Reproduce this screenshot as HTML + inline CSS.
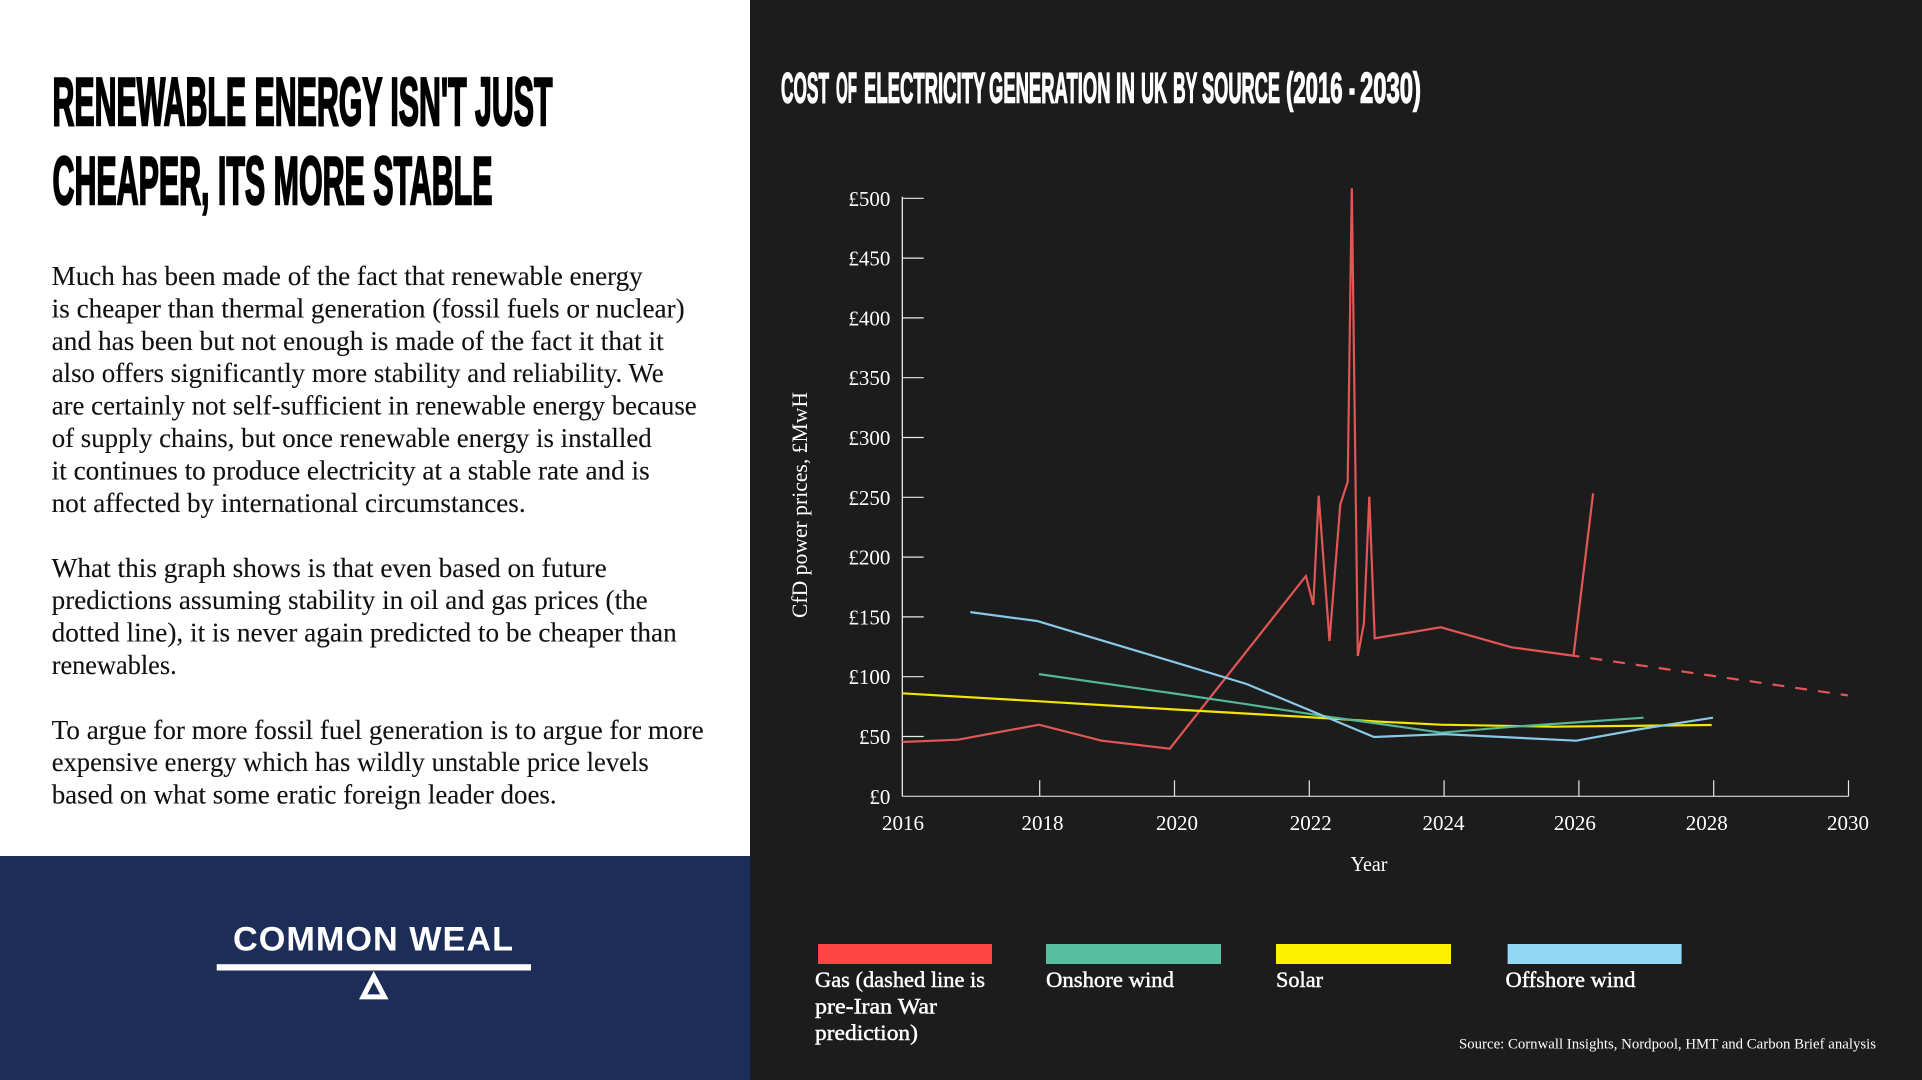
<!DOCTYPE html>
<html lang="en">
<head>
<meta charset="utf-8">
<title>Renewable energy isn't just cheaper, its more stable</title>
<style>
html,body{margin:0;padding:0;background:#1c1c1c;}
body{width:1922px;height:1080px;overflow:hidden;}
svg{display:block;}
.head{font-family:"Liberation Sans Narrow","Liberation Sans",sans-serif;font-weight:700;}
.body-line{font-family:"Liberation Serif",serif;font-size:27px;fill:#111;stroke:#111;stroke-width:.12px;}
.chart-text{font-family:"Liberation Serif",serif;font-size:21px;fill:#fff;}
.legend-text{font-family:"Liberation Serif",serif;font-size:22px;fill:#fff;stroke:#fff;stroke-width:.45px;}
</style>
</head>
<body>
<svg id="page" xmlns="http://www.w3.org/2000/svg" width="1922" height="1080" viewBox="0 0 1922 1080">
  <rect x="0" y="0" width="750" height="856" fill="#ffffff"/>
  <rect x="0" y="856" width="750" height="224" fill="#1c2d58"/>
  <rect x="750" y="0" width="1172" height="1080" fill="#1c1c1c"/>

  <g class="head" font-size="67.5" fill="#000" stroke="#000" stroke-width="2.4">
    <text x="52.5" y="125" textLength="500" lengthAdjust="spacingAndGlyphs">RENEWABLE ENERGY ISN'T JUST</text>
    <text x="52.5" y="204" textLength="440" lengthAdjust="spacingAndGlyphs">CHEAPER, ITS MORE STABLE</text>
  </g>

  <g class="body-line">
    <text x="51.7" y="285" textLength="591" lengthAdjust="spacingAndGlyphs">Much has been made of the fact that renewable energy</text>
    <text x="51.7" y="317.4" textLength="633" lengthAdjust="spacingAndGlyphs">is cheaper than thermal generation (fossil fuels or nuclear)</text>
    <text x="51.7" y="349.8" textLength="612" lengthAdjust="spacingAndGlyphs">and has been but not enough is made of the fact it that it</text>
    <text x="51.7" y="382.2" textLength="612" lengthAdjust="spacingAndGlyphs">also offers significantly more stability and reliability. We</text>
    <text x="51.7" y="414.6" textLength="645" lengthAdjust="spacingAndGlyphs">are certainly not self-sufficient in renewable energy because</text>
    <text x="51.7" y="447" textLength="600" lengthAdjust="spacingAndGlyphs">of supply chains, but once renewable energy is installed</text>
    <text x="51.7" y="479.4" textLength="598" lengthAdjust="spacingAndGlyphs">it continues to produce electricity at a stable rate and is</text>
    <text x="51.7" y="511.8" textLength="474" lengthAdjust="spacingAndGlyphs">not affected by international circumstances.</text>
    <text x="51.7" y="576.8" textLength="555" lengthAdjust="spacingAndGlyphs">What this graph shows is that even based on future</text>
    <text x="51.7" y="609.2" textLength="596" lengthAdjust="spacingAndGlyphs">predictions assuming stability in oil and gas prices (the</text>
    <text x="51.7" y="641.6" textLength="625" lengthAdjust="spacingAndGlyphs">dotted line), it is never again predicted to be cheaper than</text>
    <text x="51.7" y="674" textLength="125" lengthAdjust="spacingAndGlyphs">renewables.</text>
    <text x="51.7" y="738.8" textLength="652" lengthAdjust="spacingAndGlyphs">To argue for more fossil fuel generation is to argue for more</text>
    <text x="51.7" y="771.2" textLength="597" lengthAdjust="spacingAndGlyphs">expensive energy which has wildly unstable price levels</text>
    <text x="51.7" y="803.6" textLength="505" lengthAdjust="spacingAndGlyphs">based on what some eratic foreign leader does.</text>
  </g>

  <g>
    <text x="233" y="950.5" font-family="'Liberation Sans',sans-serif" font-weight="700" font-size="34" fill="#fff" letter-spacing="1" textLength="281" lengthAdjust="spacingAndGlyphs">COMMON WEAL</text>
    <rect x="216.7" y="964.2" width="314.3" height="6.3" fill="#fff"/>
    <path fill="#fff" fill-rule="evenodd" d="M373.7 971 L388.5 999.4 L359 999.4 Z M373.7 982 L367.3 994.4 L380.2 994.4 Z"/>
  </g>

  <text class="head" y="102.6" font-size="42.6" fill="#fff" stroke="#fff" stroke-width="1.4" lengthAdjust="spacingAndGlyphs"><tspan x="781" textLength="48" lengthAdjust="spacingAndGlyphs">COST</tspan> <tspan x="836" textLength="21" lengthAdjust="spacingAndGlyphs">OF</tspan> <tspan x="864" textLength="121" lengthAdjust="spacingAndGlyphs">ELECTRICITY</tspan> <tspan x="989" textLength="121.5" lengthAdjust="spacingAndGlyphs">GENERATION</tspan> <tspan x="1116" textLength="19" lengthAdjust="spacingAndGlyphs">IN</tspan> <tspan x="1141" textLength="26" lengthAdjust="spacingAndGlyphs">UK</tspan> <tspan x="1173" textLength="24" lengthAdjust="spacingAndGlyphs">BY</tspan> <tspan x="1202" textLength="78" lengthAdjust="spacingAndGlyphs">SOURCE</tspan> <tspan x="1286" textLength="56.6" lengthAdjust="spacingAndGlyphs">(2016</tspan> <tspan x="1349" textLength="6" lengthAdjust="spacingAndGlyphs">-</tspan> <tspan x="1360" textLength="61" lengthAdjust="spacingAndGlyphs">2030)</tspan></text>

  <g id="chart">
    <text class="chart-text" transform="translate(807 505) rotate(-90)" text-anchor="middle" textLength="226" lengthAdjust="spacingAndGlyphs" style="font-size:22px">CfD power prices, £MwH</text>
    <text class="chart-text" x="1369" y="871" text-anchor="middle" textLength="37" lengthAdjust="spacingAndGlyphs">Year</text>
  </g>

  <g>
    <g>
      <rect x="818" y="944" width="174" height="20" fill="#ff4444"/>
      <text class="legend-text" x="815" y="987" textLength="170" lengthAdjust="spacingAndGlyphs">Gas (dashed line is</text>
      <text class="legend-text" x="815" y="1013.6" textLength="122" lengthAdjust="spacingAndGlyphs">pre-Iran War</text>
      <text class="legend-text" x="815" y="1040" textLength="103" lengthAdjust="spacingAndGlyphs">prediction)</text>
    </g>
    <g>
      <rect x="1046" y="944" width="175" height="20" fill="#57bf9f"/>
      <text class="legend-text" x="1046" y="987" textLength="128" lengthAdjust="spacingAndGlyphs">Onshore wind</text>
    </g>
    <g>
      <rect x="1276" y="944" width="175" height="20" fill="#fff000"/>
      <text class="legend-text" x="1276" y="987" textLength="47" lengthAdjust="spacingAndGlyphs">Solar</text>
    </g>
    <g>
      <rect x="1507.6" y="944" width="174" height="20" fill="#92d8f5"/>
      <text class="legend-text" x="1505.5" y="987" textLength="130" lengthAdjust="spacingAndGlyphs">Offshore wind</text>
    </g>
  </g>

  <text x="1459" y="1048.5" font-family="'Liberation Serif',serif" font-size="15" fill="#fff" textLength="417" lengthAdjust="spacingAndGlyphs">Source: Cornwall Insights, Nordpool, HMT and Carbon Brief analysis</text>
</svg>

<script>
const xTickYears = [2016, 2018, 2020, 2022, 2024, 2026, 2028, 2030];
const yTickValues = [0, 50, 100, 150, 200, 250, 300, 350, 400, 450, 500];

const gasYears = [2015.96, 2016.79, 2017.99, 2018.92, 2019.93, 2021.95, 2022.06, 2022.14, 2022.30, 2022.46, 2022.57, 2022.63, 2022.72, 2022.81, 2022.89, 2022.97, 2023.95, 2025.00, 2025.92, 2026.21];
const gasValues = [45.4, 47.3, 59.9, 46.5, 39.8, 184.2, 160, 251.3, 129.8, 244.1, 263, 508.4, 117.3, 144.6, 250.5, 132.1, 141.3, 124.6, 117.6, 253.3];

const gasForecastYears = [2025.92, 2028, 2029.99];
const gasForecastValues = [117.6, 100.6, 84.4];

const solarYears = [2015.96, 2018, 2019.98, 2021.96, 2023.05, 2023.95, 2025.62, 2027.97];
const solarValues = [86.1, 79.4, 72.7, 66.3, 62.4, 59.9, 58.2, 59.6];

const onshoreYears = [2017.99, 2019.98, 2021.07, 2022.26, 2023.05, 2023.96, 2025.03, 2026.96];
const onshoreValues = [102.2, 86, 77, 66.6, 60.5, 53.2, 58.2, 65.7];

const offshoreYears = [2016.97, 2017.96, 2019.98, 2021.07, 2022.96, 2024, 2025.96, 2026.92, 2027.99];
const offshoreValues = [154, 146.6, 112.5, 93.9, 49.6, 52, 46.5, 56.3, 65.7];

const SVG_NS = 'http://www.w3.org/2000/svg';
const chart = document.getElementById('chart');

function x(year) { return 904.9 + (year - 2016) * 67.4; }
function y(value) { return 796.3 - value * 1.196; }

function segment(x1, y1, x2, y2, stroke) {
  const el = document.createElementNS(SVG_NS, 'line');
  el.setAttribute('x1', x1);
  el.setAttribute('y1', y1);
  el.setAttribute('x2', x2);
  el.setAttribute('y2', y2);
  el.setAttribute('stroke', stroke);
  el.setAttribute('stroke-width', '1.2');
  chart.appendChild(el);
  return el;
}

function label(text, px, py, anchor) {
  const el = document.createElementNS(SVG_NS, 'text');
  el.setAttribute('class', 'chart-text');
  el.setAttribute('x', px);
  el.setAttribute('y', py);
  el.setAttribute('text-anchor', anchor);
  el.textContent = text;
  chart.appendChild(el);
  return el;
}

function series(years, values, color) {
  const el = document.createElementNS(SVG_NS, 'polyline');
  el.setAttribute('points', years.map(function (yr, i) { return x(yr).toFixed(1) + ',' + y(values[i]).toFixed(1); }).join(' '));
  el.setAttribute('fill', 'none');
  el.setAttribute('stroke', color);
  el.setAttribute('stroke-width', '2.2');
  el.setAttribute('stroke-linejoin', 'miter');
  chart.appendChild(el);
  return el;
}

const axisLeft = 902.3;

const yAxisLine = segment(axisLeft, y(500) - 1.5, axisLeft, y(0), '#ffffff');



const xAxisLine = segment(axisLeft, y(0), x(2030), y(0), '#d8d8d8');



yTickValues.forEach(function (value) {
  if (value > 0) {
    const tick = segment(axisLeft, y(value), axisLeft + 21.4, y(value), '#e8e8e8');
    
    
  }
  const text = label('£' + value, 890.4, y(value) + 7.5, 'end');
  
  
});

const xLabelNudge = [-1.9, 2.8, 2.5, 1.4, -0.6, -4, -7, -0.5];
xTickYears.forEach(function (year, i) {
  if (i > 0) {
    const tick = segment(x(year), y(0), x(year), y(0) - 16, '#e8e8e8');
    
    
  }
  const text = label(String(year), x(year) + xLabelNudge[i], 830, 'middle');
  
  
});

const gasLine = series(gasYears, gasValues, '#e25656');



const gasForecastLine = series(gasForecastYears, gasForecastValues, '#e25656');


gasForecastLine.setAttribute('stroke-dasharray', '12 11');
gasForecastLine.setAttribute('stroke-dashoffset', '6');

const solarLine = series(solarYears, solarValues, '#f3e600');



const onshoreLine = series(onshoreYears, onshoreValues, '#55b795');



const offshoreLine = series(offshoreYears, offshoreValues, '#8ac9e6');


</script>
</body>
</html>
